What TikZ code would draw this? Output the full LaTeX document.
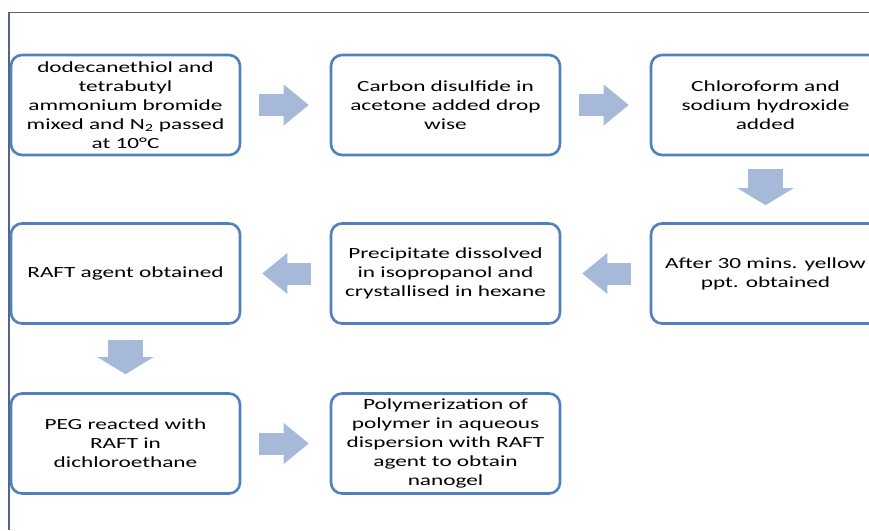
\documentclass[tikz,border=0pt]{standalone}
\usepackage{fontspec}
\setmainfont{Carlito}[FakeStretch=1.5]
\usetikzlibrary{arrows.meta}
\definecolor{boxblue}{RGB}{79,129,189}
\definecolor{arrowblue}{RGB}{167,185,216}
\definecolor{framegray}{RGB}{82,100,135}
\tikzstyle{stage}=[draw=boxblue, line width=2.6pt, rounded corners=11pt, minimum width=229pt, minimum height=100pt, inner sep=0pt, align=center, font=\fontsize{15.5}{19}\selectfont]
\tikzstyle{flow}=[draw=arrowblue, line width=22pt, -{Triangle[length=25pt, width=41pt, line width=0pt]}]
\tikzstyle{flowdown}=[draw=arrowblue, line width=35pt, -{Triangle[length=17pt, width=56pt, line width=0pt]}]

\begin{document}
\begin{tikzpicture}[x=1pt, y=-1pt]
    \useasboundingbox (0, 0) rectangle (869, 530);
    % outer frame
    \draw[framegray, line width=1.3pt] (9, 530) -- (9, 12.7) -- (869, 12.7);
    % first row
    \node[stage] (mix) at (125.5, 105) {dodecanethiol and\\ tetrabutyl\\ ammonium bromide\\ mixed and N\textsubscript{2} passed\\ at 10°C};
    \node[stage] (disulfide) at (445.5, 105) {Carbon disulfide in\\ acetone added drop\\ wise};
    \node[stage] (chloroform) at (765.5, 105) {Chloroform and\\ sodium hydroxide\\ added};
    % second row
    \node[stage] (ppt) at (765.5, 273.5) {After 30 mins. yellow\\ ppt. obtained};
    \node[stage] (dissolve) at (445.5, 273.5) {Precipitate dissolved\\ in isopropanol and\\ crystallised in hexane};
    \node[stage] (raft) at (125.5, 273.5) {RAFT agent obtained};
    % third row
    \node[stage] (peg) at (125.5, 443.5) {PEG reacted with\\ RAFT in\\ dichloroethane};
    \node[stage] (nanogel) at (445.5, 443.5) {Polymerization of\\ polymer in aqueous\\ dispersion with RAFT\\ agent to obtain\\ nanogel};
    % block arrows
    \draw[flow, shorten <=18pt, shorten >=21pt] (mix.east) -- (disulfide.west);
    \draw[flow, shorten <=18pt, shorten >=21pt] (disulfide.east) -- (chloroform.west);
    \draw[flowdown, shorten <=13pt, shorten >=17pt] (chloroform.south) -- (ppt.north);
    \draw[flow, shorten <=19pt, shorten >=21pt] (ppt.west) -- (dissolve.east);
    \draw[flow, shorten <=19pt, shorten >=21pt] (dissolve.west) -- (raft.east);
    \draw[flowdown, shorten <=15pt, shorten >=18pt] (raft.south) -- (peg.north);
    \draw[flow, shorten <=18pt, shorten >=21pt] (peg.east) -- (nanogel.west);
\end{tikzpicture}
\end{document}
